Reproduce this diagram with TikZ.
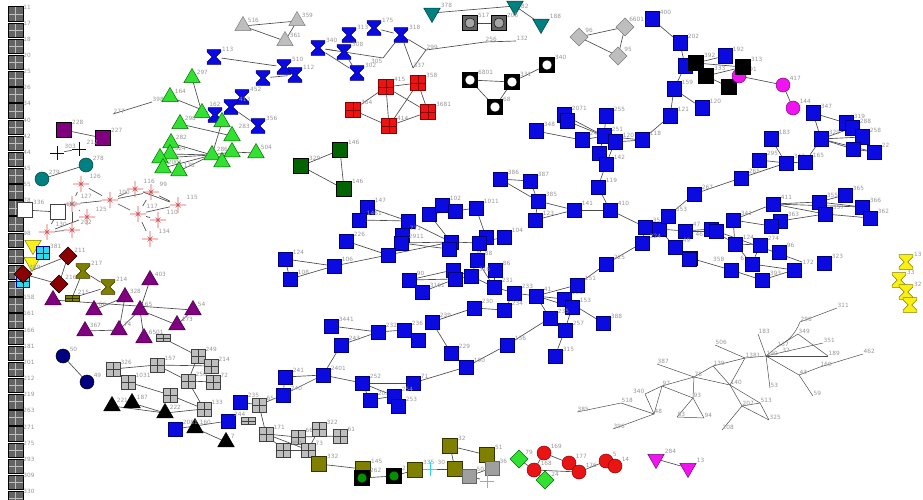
\documentclass[tikz,border=0pt]{standalone}
\usepackage{fontspec}
\setmainfont{DejaVu Sans}
\usetikzlibrary{shapes.geometric,backgrounds}
\definecolor{nb}{RGB}{10,10,225}
\definecolor{nbd}{RGB}{0,0,120}
\definecolor{gtf}{RGB}{50,225,50}
\definecolor{gtd}{RGB}{0,110,0}
\definecolor{lg}{RGB}{190,190,190}
\definecolor{lgd}{RGB}{125,125,125}
\definecolor{dg}{RGB}{100,100,100}
\definecolor{pu}{RGB}{128,0,128}
\definecolor{tl}{RGB}{0,128,128}
\definecolor{dr}{RGB}{139,0,0}
\definecolor{ol}{RGB}{128,128,0}
\definecolor{dgn}{RGB}{0,100,0}
\definecolor{rd}{RGB}{235,20,20}
\definecolor{mg}{RGB}{240,20,240}
\definecolor{nv}{RGB}{0,0,128}
\definecolor{cy}{RGB}{40,220,235}
\definecolor{yl}{RGB}{250,240,20}
\definecolor{pk}{RGB}{215,85,85}
\definecolor{labc}{RGB}{150,150,150}
\definecolor{edc}{RGB}{75,75,75}
\tikzset{
 lab/.style={font=\fontsize{5.8}{6.5}\selectfont,text=labc,inner sep=0.5pt},
 lb/.style={label={[lab]30:#1}},
 lbn/.style={label={[lab]90:#1}},
 lbw/.style={label={[lab]160:#1}},
 ed/.style={draw=edc,line width=0.65pt},
 el/.style={draw=black!70,line width=0.5pt},
 inv/.style={inner sep=0,minimum size=0pt,outer sep=0},
 base/.style={inner sep=0,outer sep=0,line width=0.5pt},
 bsq/.style={base,rectangle,draw=nbd,fill=nb,minimum size=14.5pt},
 gl/.style={path picture={\draw[#1,line width=0.6pt] (path picture bounding box.north) -- (path picture bounding box.south) (path picture bounding box.west) -- (path picture bounding box.east);}},
 lgs/.style={base,rectangle,minimum size=14pt,fill=lg,draw=black!75,gl=black!75},
 lgf/.style={lgs,minimum height=7pt},
 dgs/.style={base,rectangle,minimum size=14.5pt,fill=dg,draw=black,gl=lg},
 rgs/.style={base,rectangle,minimum size=15pt,fill=rd,draw=dr,gl=dr},
 cgs/.style={base,rectangle,minimum size=13pt,fill=cy,draw=blue!60!black,gl=blue!60!black},
 olf/.style={base,rectangle,minimum width=14pt,minimum height=6pt,fill=ol,draw=ol!40!black,gl=ol!40!black},
 tri/.style={base,regular polygon,regular polygon sides=3,minimum size=19pt},
 gtri/.style={tri,fill=gtf,draw=gtd},
 ptri/.style={tri,fill=pu,draw=pu!50!black},
 ktri/.style={tri,fill=black,draw=black},
 grtri/.style={tri,fill=lg,draw=lgd},
 dtri/.style={tri,shape border rotate=180},
 ttri/.style={dtri,fill=tl,draw=tl!50!black},
 mtri/.style={dtri,fill=mg,draw=mg!50!black},
 yltri/.style={dtri,fill=yl,draw=ol},
 hg/.style 2 args={base,rectangle,minimum width=15pt,minimum height=16pt,path picture={\filldraw[fill=#1,draw=#2,line width=0.5pt,shift={(path picture bounding box.center)}] (-6.8pt,7.4pt) -- (6.8pt,7.4pt) -- (6.8pt,5pt) -- (1.8pt,0pt) -- (6.8pt,-5pt) -- (6.8pt,-7.4pt) -- (-6.8pt,-7.4pt) -- (-6.8pt,-5pt) -- (-1.8pt,0pt) -- (-6.8pt,5pt) -- cycle;}},
 bhg/.style={hg={nb}{nbd}},
 ohg/.style={hg={ol}{ol!40!black}},
 yhg/.style={hg={yl}{ol}},
 circ/.style={base,circle,minimum size=14pt},
 rcirc/.style={circ,fill=rd,draw=dr},
 mcirc/.style={circ,fill=mg,draw=mg!50!black},
 tcirc/.style={circ,fill=tl,draw=tl!50!black},
 ncirc/.style={circ,fill=nv,draw=black},
 csq/.style 2 args={base,rectangle,minimum size=15pt,fill=#1,draw=black,line width=0.8pt,path picture={\filldraw[fill=#2,draw=black,line width=0.4pt] (path picture bounding box.center) circle (5pt);}},
 diam/.style={base,diamond,minimum size=18pt},
 gdm/.style={diam,fill=lg,draw=lgd},
 drdm/.style={diam,fill=dr,draw=black},
 gndm/.style={diam,fill=gtf,draw=gtd},
 psq/.style={base,rectangle,minimum size=15pt,fill=pu,draw=black},
 dgnsq/.style={base,rectangle,minimum size=15pt,fill=dgn,draw=black},
 olsq/.style={base,rectangle,minimum size=15pt,fill=ol,draw=ol!40!black},
 wsq/.style={base,rectangle,minimum size=15pt,fill=white,draw=gray!50!black},
 ksq/.style={base,rectangle,minimum size=15pt,fill=black,draw=black},
 gysq/.style={base,rectangle,minimum size=14pt,fill=gray!75,draw=black!60},
 starm/.style={base,rectangle,minimum size=16pt,path picture={\draw[pk,line width=0.7pt,shift={(path picture bounding box.center)}] (-8pt,0pt) -- (8pt,0pt) (0pt,-8pt) -- (0pt,8pt) (-2.5pt,-2.5pt) -- (2.5pt,2.5pt) (-2.5pt,2.5pt) -- (2.5pt,-2.5pt);}},
 plusm/.style={base,rectangle,minimum size=14pt,path picture={\draw[#1,line width=0.8pt,shift={(path picture bounding box.center)}] (-7pt,0pt) -- (7pt,0pt) (0pt,-7pt) -- (0pt,7pt);}}
}
\begin{document}
\begin{tikzpicture}[x=1pt,y=-1pt]
\useasboundingbox (0,0) rectangle (923,500);
% left column
\foreach \lt [count=\i from 0] in {11,17,18,20,25,26,34,40,42,44,45,55,78,88,98,{},{},{},158,161,166,181,201,212,219,263,271,275,293,309,330}
  \node[dgs,lb=\lt] (L\i) at (15.5,{14+16.15*\i}) {};
% gray triangles
\node[grtri,lb=516] (gt1) at (243,26) {};
\node[grtri,lb=359] (gt2) at (297,21) {};
\node[grtri,lb=361] (gt3) at (285,41) {};
% blue hourglasses
\node[bhg,lb=113] (h1) at (214,57) {};
\node[bhg,lb=510] (h2) at (284,67) {};
\node[bhg,lb=112] (h3) at (295,75) {};
\node[bhg] (h4) at (263,78) {};
\node[bhg,lb=452] (h5) at (242,97) {};
\node[bhg,lb=356,label={[lab]180:283}] (h6) at (258,126) {};
\node[bhg,lb=340] (h7) at (318,48) {};
\node[bhg,lb=313] (h8) at (349,35) {};
\node[bhg,lb=175] (h9) at (374,28) {};
\node[bhg,lb=318] (h10) at (401,35) {};
\node[bhg,lb=308] (h11) at (344,52) {};
\node[bhg,lb=302] (h12) at (357,73) {};
\node[bhg,lbn=162] (h13) at (215,115) {};
\node[bhg,lb=413] (h14) at (231,107) {};
\node[inv,label={[lab]200:305}] (i305) at (383,58) {};
\node[inv,lb=337] (i337) at (413,68) {};
\node[inv,lb=299] (i299) at (426,50) {};
\node[inv,lb=256] (i256) at (485,42) {};
\node[inv,lb=132] (i132) at (516,41) {};
\node[inv,lb=277] (i277) at (113,114) {};
\node[inv,lb=398] (i398) at (152,102) {};
% teal, gray circles, diamonds, white circles
\node[ttri,lb=378] (tt1) at (432,13) {};
\node[ttri,label={[lab]0:82}] (tt2) at (515,6) {};
\node[ttri,lb=188] (tt3) at (541,24) {};
\node[csq={dg}{gray!70}, lb=517] (gc1) at (470,23) {};
\node[csq={dg}{gray!70}, lb=205] (gc2) at (499,23) {};
\node[gdm,lb=96] (gd1) at (579,37) {};
\node[gdm] (gd2) at (625,27) {};
\node[gdm,lb=95] (gd3) at (618,56) {};
\node[csq={black}{white},lb=6801] (wc1) at (470,80) {};
\node[csq={black}{white},lb=331] (wc2) at (512,82) {};
\node[csq={black}{white},lb=68] (wc3) at (495,107) {};
\node[csq={black}{white},lb=340] (wc4) at (547,65) {};
% red grid
\node[rgs,lb=415] (rg1) at (386,87) {};
\node[rgs,lb=358] (rg2) at (418,83) {};
\node[rgs,lb=364] (rg3) at (353,110) {};
\node[rgs,lb=3681] (rg4) at (428,112) {};
\node[rgs,lb=414] (rg5) at (389,126) {};
% dark green
\node[dgnsq,lb=329] (dg1) at (301,166) {};
\node[dgnsq,lb=146] (dg2) at (340,150) {};
\node[dgnsq,lb=146] (dg3) at (344,189) {};
% purple squares, plus, teal circles
\node[psq,lb=228] (ps1) at (64,130) {};
\node[psq,lb=227] (ps2) at (103,138) {};
\node[plusm=nv,lb=303] (pl1) at (57,153) {};
\node[plusm=nv,lb=212] (pl2) at (79,149) {};
\node[tcirc,lb=278] (tc1) at (86,165) {};
\node[tcirc,lb=279] (tc2) at (42,179) {};
% green triangles
\node[gtri,lb=297] (g1) at (192,78) {};
\node[gtri,lb=164] (g2) at (170,97) {};
\node[gtri] (g3) at (202,113) {};
\node[gtri,lb=298] (g4) at (180,124) {};
\node[gtri] (g5) at (222,122) {};
\node[gtri] (g6) at (232,136) {};
\node[gtri,lb=282] (g15) at (171,143) {};
\node[gtri,lb=324] (g7) at (170,154) {};
\node[gtri] (g8) at (160,158) {};
\node[gtri,lb=286] (g9) at (212,155) {};
\node[gtri] (g10) at (232,152) {};
\node[gtri,lb=2001] (g11) at (163,168) {};
\node[gtri,lb=178] (g12) at (179,171) {};
\node[gtri,lb=504] (g13) at (256,153) {};
\node[gtri] (g14) at (222,162) {};
% stars
\node[starm,lb=126] (s1) at (81,184) {};
\node[starm,lb=100] (s2) at (110,200) {};
\node[starm,lb=116] (s3) at (135,189) {};
\node[starm,lb=99] (s4) at (151,192) {};
\node[starm,lb=115] (s5) at (178,205) {};
\node[starm,lb=117] (s6) at (138,214) {};
\node[starm,lb=110] (s7) at (158,220) {};
\node[starm,lb=134] (s8) at (150,239) {};
\node[starm,lb=127] (s9) at (72,204) {};
\node[starm,lb=125] (s10) at (87,217) {};
\node[starm,lb=202] (s11) at (72,230) {};
\node[starm,lb=130] (s12) at (47,232) {};
\node[wsq,lb=336] (w1) at (25,210) {};
\node[wsq,lb=102] (w2) at (58,212) {};
% yellow / cyan / dark red / olive
\node[yltri] (yt1) at (33,245) {};
\node[yltri] (yt2) at (32,262) {};
\node[cgs,lb=381] (cg1) at (43,253) {};
\node[cgs] (cg2) at (23,281) {};
\node[drdm,lb=211] (dd1) at (68,256) {};
\node[drdm,lb=389] (dd2) at (23,274) {};
\node[drdm,lb=216] (dd3) at (59,284) {};
\node[ohg,lb=217] (oh1) at (83,271) {};
\node[ohg,lb=214] (oh2) at (108,287) {};
\node[olf,lb=215] (of1) at (72,298) {};
% purple triangles
\node[ptri,lb=403] (p1) at (150,280) {};
\node[ptri,lb=328] (p2) at (125,297) {};
\node[ptri] (p3) at (53,300) {};
\node[ptri,lb=66] (p4) at (94,310) {};
\node[ptri,lb=65] (p5) at (140,310) {};
\node[ptri,lb=54] (p6) at (193,310) {};
\node[ptri,lb=173] (p7) at (177,325) {};
\node[ptri,lb=74] (p8) at (119,330) {};
\node[ptri,lb=367] (p9) at (85,331) {};
\node[ptri,lb=6501] (p10) at (144,338) {};
\node[ncirc,lb=50] (nc1) at (63,356) {};
\node[ncirc,lb=49] (nc2) at (87,382) {};
% light gray grid
\node[lgs,lb=326] (q1) at (113,369) {};
\node[lgs,lb=157] (q2) at (157,365) {};
\node[lgs,lb=249] (q3) at (198,356) {};
\node[lgs,lb=214] (q4) at (211,366) {};
\node[lgs,lb=1031] (q5) at (128,382) {};
\node[lgs,lb=250] (q6) at (188,381) {};
\node[lgs,lb=72] (q7) at (213,382) {};
\node[lgs] (q8) at (170,395) {};
\node[lgs,lb=133] (q9) at (204,409) {};
\node[lgf] (q10) at (163,338) {};
\node[ktri,lb=221] (k1) at (112,406) {};
\node[ktri,lb=187] (k2) at (132,403) {};
\node[ktri,lb=222] (k3) at (165,413) {};
\node[ktri,lb=160] (k4) at (195,428) {};
\node[ktri,lb=7] (k5) at (226,442) {};
\node[bsq,lb=2081] (bb1) at (175,429) {};
\node[bsq] (bb2) at (228,421) {};
\node[lgs,lb=65] (r1) at (259,405) {};
\node[lgf,label={[lab]120:244}] (r2) at (248,421) {};
\node[lgs,lb=171] (r3) at (266,434) {};
\node[lgs,lb=66] (r4) at (298,437) {};
\node[lgs,lb=322] (r5) at (319,429) {};
\node[lgs,lb=61] (r6) at (340,436) {};
\node[lgs,lb=302] (r7) at (283,450) {};
\node[lgs,lb=73] (r8) at (308,450) {};
% bottom olive etc.
\node[olsq,lb=332] (o1) at (319,464) {};
\node[olsq,lb=145] (o2) at (363,469) {};
\node[csq={black}{dgn!70!green},lb=262] (gcb1) at (362,478) {};
\node[csq={black}{dgn!70!green},lb=2] (gcb2) at (394,476) {};
\node[olsq,lb=335] (o3) at (415,470) {};
\node[plusm=cy,lb=30] (cp1) at (430,469) {};
\node[olsq,lb=32] (o4) at (450,446) {};
\node[olsq] (o5) at (455,469) {};
\node[olsq,lb=51] (o6) at (487,455) {};
\node[gysq,lb=36] (gy1) at (492,468) {};
\node[gysq,lb=501] (gy2) at (469,476) {};
\node[plusm=cy] (cp2) at (487,481) {};
\node[gndm,lb=79] (gn1) at (519,459) {};
\node[gndm,lb=24] (gn2) at (545,480) {};
\node[rcirc,lb=169] (rc1) at (544,453) {};
\node[rcirc,lb=168] (rc2) at (534,470) {};
\node[rcirc,lb=177] (rc3) at (569,463) {};
\node[rcirc,lb=176] (rc4) at (579,472) {};
\node[rcirc,lb=5] (rc5) at (606,461) {};
\node[rcirc,lb=14] (rc6) at (615,466) {};
\node[mtri,lb=284] (md1) at (656,459) {};
\node[mtri,lb=13] (md2) at (688,468) {};
% top right black / magenta
\node[bsq,lb=400,label={[lab]180:6601}] (B1) at (652,19) {};
\node[bsq,lb=202] (B2) at (680,43) {};
\node[bsq] (B3) at (685,66) {};
\node[ksq,lb=392] (ks1) at (696,63) {};
\node[ksq,lb=333] (ks2) at (706,76) {};
\node[ksq] (ks3) at (729,87) {};
\node[mcirc,lb=191] (mc1) at (739,76) {};
\node[ksq,lb=313] (ks4) at (743,67) {};
\node[bsq,lb=192] (bl) at (725,56) {};
\node[mcirc,lb=417] (mc2) at (783,85) {};
\node[mcirc,lb=144] (mc3) at (793,108) {};
% blue network
\node[bsq,lb=159] (B4) at (674,89) {};
\node[bsq,lb=121] (B5) at (670,116) {};
\node[bsq,lb=118] (B6) at (642,140) {};
\node[bsq,lb=120] (B7) at (702,108) {};
\node[bsq,lb=255] (B8) at (606,116) {};
\node[bsq,lb=2071] (B9) at (564,115) {};
\node[bsq] (B10) at (567,121) {};
\node[bsq,lb=348] (B11) at (536,131) {};
\node[bsq,lb=24] (B12) at (582,140) {};
\node[bsq,lb=251] (B13) at (604,136) {};
\node[bsq,lb=120] (B14) at (615,142) {};
\node[bsq] (B15) at (599,153) {};
\node[bsq,lb=142] (B16) at (606,164) {};
\node[bsq,lb=119] (B17) at (598,187) {};
\node[bsq,lb=347] (C1) at (813,113) {};
\node[bsq,lb=319] (C2) at (846,123) {};
\node[bsq,lb=288] (C3) at (852,128) {};
\node[bsq,lb=258] (C4) at (862,137) {};
\node[bsq] (C5) at (853,149) {};
\node[bsq,lb=22] (C6) at (874,152) {};
\node[bsq,lb=329] (C7) at (821,139) {};
\node[bsq,lb=183] (C8) at (771,139) {};
\node[bsq,lb=295] (C9) at (759,160) {};
\node[bsq,lb=342] (C10) at (786,163) {};
\node[bsq,lb=165] (C11) at (805,162) {};
\node[bsq,lb=265] (D1) at (741,178) {};
\node[bsq,lb=267] (D2) at (694,194) {};
\node[bsq,lb=411] (D3) at (773,204) {};
\node[bsq,lb=355] (D4) at (819,202) {};
\node[bsq,lb=365] (D5) at (845,195) {};
\node[bsq,lb=366] (D6) at (862,207) {};
\node[bsq,lb=357] (D7) at (825,214) {};
\node[bsq,lb=362] (D8) at (870,218) {};
\node[bsq,lb=363] (D9) at (780,221) {};
\node[bsq] (D10) at (771,226) {};
\node[bsq,lb=341] (D11) at (733,220) {};
\node[bsq,label={[lab]200:46}] (D12) at (711,229) {};
\node[bsq] (D13) at (716,231) {};
\node[bsq,lb=124] (D14) at (735,244) {};
\node[bsq,lb=274] (D15) at (760,245) {};
\node[bsq,lb=96] (D16) at (779,252) {};
\node[bsq,lbw=6] (D17) at (752,264) {};
\node[bsq,lb=323] (D18) at (824,263) {};
\node[inv,label={[lab]0:172}] (i172) at (802,262) {};
\node[bsq,label={[lab]130:358}] (D19) at (731,270) {};
\node[bsq,lb=393] (D20) at (762,280) {};
\node[bsq] (D21) at (794,270) {};
\node[bsq] (D22) at (690,258) {};
\node[bsq,lb=35] (E1) at (645,227) {};
\node[bsq] (E2) at (659,229) {};
\node[bsq,lb=353] (E3) at (668,216) {};
\node[bsq,lb=224] (E4) at (642,243) {};
\node[bsq,lb=47] (E5) at (685,231) {};
\node[bsq,lb=49] (E6) at (675,247) {};
\node[bsq] (E7) at (689,259) {};
\node[bsq,lb=225] (E8) at (606,264) {};
\node[bsq,lb=141] (E9) at (574,210) {};
\node[bsq,lb=410] (E10) at (610,210) {};
\node[bsq,lb=386] (F1) at (500,179) {};
\node[bsq,lb=387] (F2) at (530,181) {};
\node[bsq,lb=385] (F3) at (538,201) {};
\node[bsq,lb=123] (F4) at (535,220) {};
\node[bsq,lb=1011] (F5) at (476,208) {};
\node[bsq,lb=104] (F6) at (504,237) {};
\node[bsq] (F7) at (486,237) {};
\node[bsq] (F8) at (479,243) {};
\node[bsq,lb=88] (F9) at (477,260) {};
\node[bsq,lb=86] (F10) at (495,270) {};
\node[bsq,lb=316] (F11) at (471,276) {};
\node[bsq,lb=231] (F12) at (494,287) {};
\node[bsq,lb=233] (F13) at (514,293) {};
\node[bsq,lb=234] (F14) at (504,310) {};
\node[bsq,lb=230] (F15) at (474,308) {};
\node[bsq,lb=41] (G1) at (536,296) {};
\node[bsq,lb=156] (G2) at (564,299) {};
\node[bsq,lb=151] (G3) at (577,285) {};
\node[bsq,lb=153] (G4) at (572,307) {};
\node[bsq,lb=235] (G5) at (550,318) {};
\node[bsq,lb=257] (G6) at (565,330) {};
\node[bsq,lb=388] (G7) at (603,323) {};
\node[bsq,lb=315] (G8) at (555,356) {};
\node[bsq,lb=156] (G10) at (507,345) {};
\node[bsq,lb=190] (G11) at (466,367) {};
\node[bsq,lb=3441] (H1) at (331,326) {};
\node[bsq,lb=232] (H2) at (378,332) {};
\node[bsq,lb=236] (H3) at (404,330) {};
\node[bsq,lb=239] (H4) at (432,322) {};
\node[bsq] (H5) at (418,340) {};
\node[bsq,lb=229] (H6) at (451,353) {};
\node[bsq,lb=243] (H7) at (341,345) {};
\node[bsq,lb=2401] (H8) at (323,375) {};
\node[bsq,lb=241] (H9) at (285,377) {};
\node[bsq,lb=240] (H10) at (283,395) {};
\node[bsq,lb=252] (H11) at (362,383) {};
\node[bsq,lb=71] (H12) at (413,383) {};
\node[bsq,lb=203] (H13) at (370,400) {};
\node[bsq,lb=254] (H14) at (394,396) {};
\node[bsq,lb=253] (H15) at (398,406) {};
\node[bsq,lb=235] (H16) at (240,402) {};
\node[bsq,lb=147] (I1) at (367,207) {};
\node[bsq,lb=1461] (I2) at (359,220) {};
\node[bsq] (I3) at (408,221) {};
\node[bsq,lb=226] (I4) at (346,241) {};
\node[bsq,lb=771] (I5) at (402,235) {};
\node[bsq,lb=2911] (I6) at (401,243) {};
\node[bsq] (I7) at (388,255) {};
\node[bsq,lb=106] (I8) at (334,266) {};
\node[bsq,lb=124] (I9) at (285,259) {};
\node[bsq,lb=108] (I10) at (290,279) {};
\node[bsq] (I11) at (429,214) {};
\node[bsq,lb=102] (I12) at (442,205) {};
\node[bsq] (I13) at (455,211) {};
\node[bsq] (I14) at (451,242) {};
\node[bsq] (I15) at (449,249) {};
\node[bsq] (I16) at (453,270) {};
\node[bsq] (I17) at (455,279) {};
\node[bsq,lb=90] (I18) at (409,280) {};
\node[bsq,lb=3161] (I19) at (422,292) {};
% right-hand invisible network
\node[inv,lb=311] (i311) at (837,308) {};
\node[inv,lb=296] (i296) at (800,322) {};
\node[inv,lb=349] (i349) at (798,334) {};
\node[inv,lb=183] (i183) at (758,334) {};
\node[inv,lb=137] (i137) at (777,347) {};
\node[inv,lb=351] (i351) at (823,343) {};
\node[inv,lb=189] (i189) at (828,356) {};
\node[inv,lb=462] (i462) at (863,354) {};
\node[inv,lb=160] (i160) at (820,367) {};
\node[inv,lb=43] (i43) at (799,375) {};
\node[inv,lb=506] (i506) at (715,345) {};
\node[inv,lb=139] (i139) at (713,366) {};
\node[inv,lb=1381] (i1381) at (745,358) {};
\node[inv,lb=190] (i190) at (766,356) {};
\node[lab] (t32) at (786,350) {32};
\node[inv,lb=78] (i78) at (694,377) {};
\node[inv,lb=140] (i140) at (730,385) {};
\node[inv,lb=53] (i53) at (770,388) {};
\node[inv,lb=93] (i93) at (693,398) {};
\node[inv,lb=513] (i513) at (760,403) {};
\node[inv,lb=59] (i59) at (813,396) {};
\node[inv,lb=207] (i207) at (742,406) {};
\node[inv,lb=94] (i94) at (704,418) {};
\node[inv,lb=325] (i325) at (769,420) {};
\node[inv,lb=208] (i208) at (722,430) {};
\node[inv,lb=387] (i387) at (657,364) {};
\node[inv,lb=97] (i97) at (662,386) {};
\node[inv,label={[lab]165:340}] (i340) at (645,394) {};
\node[inv,lb=518] (i518) at (621,403) {};
\node[inv,lb=48] (i48) at (654,414) {};
\node[inv,lb=385] (i385) at (577,412) {};
\node[inv,lb=396] (i396) at (613,429) {};
\node[inv,lb=83] (i83) at (677,417) {};
% yellow hourglasses at right edge
\node[yhg,lb=13] (yh1) at (906,262) {};
\node[yhg,lb=33] (yh2) at (899,280) {};
\node[yhg,lb=32] (yh3) at (906,292) {};
\node[yhg] (yh4) at (910,305) {};
\begin{pgfonlayer}{background}
\foreach \a/\b in {gt1/gt2,gt1/gt3,gt3/gt2,h1/h2,h2/h3,h4/h3,h14/h6,h7/h11,h7/h12,h11/h12,h9/h10,h7/i305,i305/h10,h10/i337,i337/i299,h10/i299,i299/i256,i256/i132,i277/i398,
 rg1/rg2,rg1/rg4,rg1/rg5,rg3/rg1,rg3/rg5,rg2/rg4,rg2/rg5,rg5/rg4,dg1/dg2,dg2/dg3,dg1/dg3,tt1/tt2,tt2/tt3,gc1/gc2,gd1/gd2,gd1/gd3,gd2/gd3,wc1/wc2,wc1/wc3,wc2/wc3,wc2/wc4,
 ps1/ps2,pl1/pl2,tc1/tc2,g1/g3,g2/h13,g4/g6,g5/g9,g15/g9,g7/g9,g8/g9,g9/g10,g9/g14,g10/g13,g11/g9,g12/g9,
 s1/s9,s1/s2,s2/s3,s2/s4,s2/s6,s2/s9,s3/s4,s3/s5,s4/s5,s4/s6,s6/s5,s6/s7,s6/s8,s9/s10,s9/s11,s10/s12,s12/s11,w1/w2,w2/s12,
 dd1/dd2,dd1/dd3,dd2/dd3,oh1/oh2,oh1/of1,of1/oh2,p3/p6,p4/p2,p2/p8,p1/p5,p5/p7,p7/p6,p5/p10,p9/p8,p8/p5,nc1/nc2,
 q1/q2,q2/q4,q2/q6,q3/q6,q6/q7,q6/q9,q5/q8,q8/q9,q10/q3,k1/k3,k2/k3,k3/q9,k4/k5,bb1/bb2,
 r1/r3,r3/r4,r3/r8,r3/r7,r4/r6,r5/r8,r7/r8,r1/H16,r1/H10,
 o1/o2,gcb1/gcb2,gcb2/o3,o3/cp1,cp1/o5,o4/o5,o4/o6,o5/gy2,gy2/gy1,gy2/cp2,
 gn1/rc2,rc1/rc2,rc2/gn2,rc1/rc3,rc3/rc4,rc2/rc4,rc4/rc5,rc5/rc6,md1/md2,
 ks1/bl,ks1/ks4,ks2/ks4,ks2/ks3,mc1/mc2,mc2/mc3,
 B1/B2,B2/B3,B3/B4,B4/B5,B4/B7,B5/B6,B6/B14,B6/B13,B9/B13,B10/B13,B11/B12,B8/B13,B12/B13,B13/B15,B14/B16,B15/B16,B16/B17,
 C1/C2,C1/C7,C7/C3,C7/C4,C7/C5,C7/C6,C2/C4,C5/C6,C8/C10,C7/C11,C9/C10,C10/C11,
 D1/C10,D2/D1,D11/D3,D3/D4,D3/D7,D3/D6,D4/D5,D4/D6,D7/D8,D9/D7,D11/D10,D11/D14,D12/D14,D13/i172,D14/D15,D14/D17,D15/D17,D19/D20,D20/D21,D17/D21,D22/D19,
 E9/E10,B17/E10,E10/E1,E1/E2,E2/E5,E1/E4,E4/E8,E2/E6,E6/E7,E3/E2,E3/D2,E5/D12,E5/D13,E7/D22,F3/E9,F4/E9,
 F1/F2,F1/F3,F2/F3,F3/F4,F5/F7,F6/F8,F7/F9,F8/F9,F9/F11,F9/F12,F10/F12,F11/F12,F12/F13,F13/F14,F15/F14,F13/G1,
 G1/G2,G1/G3,G1/G4,G1/G5,G2/G7,G4/G6,G6/G8,G3/E8,G10/G11,G10/G5,
 H1/H2,H2/H3,H3/H5,H4/H6,H6/G11,H7/H2,H7/H8,H8/H9,H8/H10,H9/H10,H8/H11,H11/H12,H12/G11,H11/H13,H11/H14,H14/H15,H13/H14,H4/F15,
 I9/I8,I10/I8,I9/I10,I8/I7,I7/I4,I7/I14,I1/I3,I2/I3,I3/I5,I3/I14,I6/I14,I6/I15,I11/I14,I12/I13,I11/I13,I14/F8,I13/F5,I18/I16,I18/I17,I19/I17,I17/F11,I16/F11}
  \draw[ed] (\a) -- (\b);
\foreach \a/\b in {i311/i296,i349/i137,i183/i190,i137/i190,i190/i351,i190/i189,i189/i349,i190/i43,i43/i160,i160/i462,i43/i59,i190/i53,i506/i1381,i139/i1381,i1381/i190,i140/i1381,i78/i139,i78/i140,i139/i140,i140/i207,i140/i513,i207/i208,i207/i325,i207/i513,i513/i325,i78/i93,i93/i94,i94/i83,i83/i93,i97/i93,i97/i48,i340/i97,i340/i48,i518/i48,i385/i518,i396/i48,i387/i78,i97/i78}
  \draw[el] (\a) -- (\b);
\draw[el] (i296) to[bend left=20] (i137);
\end{pgfonlayer}
\end{tikzpicture}
\end{document}
